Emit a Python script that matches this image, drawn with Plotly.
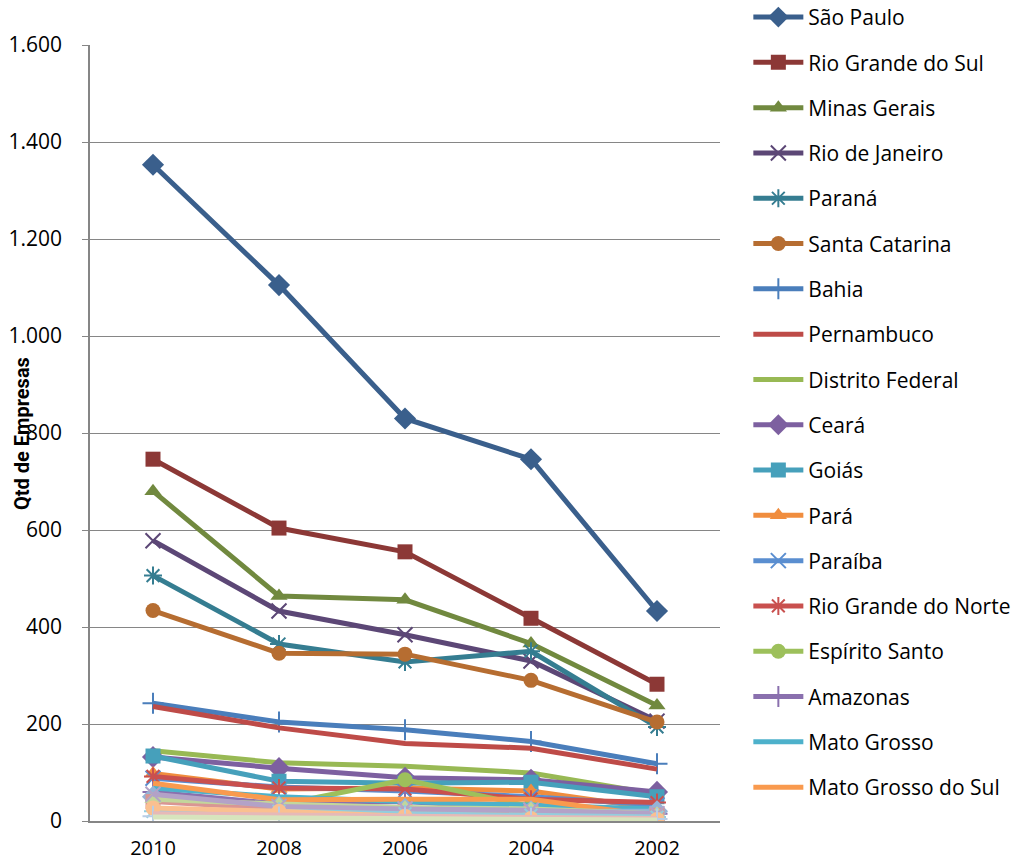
import plotly.graph_objects as go

years = ["2010", "2008", "2006", "2004", "2002"]
y_tick_vals = [0, 200, 400, 600, 800, 1000, 1200, 1400, 1600]
y_tick_text = ["0", "200", "400", "600", "800", "1.000", "1.200", "1.400", "1.600"]
y_title = "Qtd de Empresas"

states = [
    "São Paulo", "Rio Grande do Sul", "Minas Gerais", "Rio de Janeiro", "Paraná",
    "Santa Catarina", "Bahia", "Pernambuco", "Distrito Federal", "Ceará", "Goiás",
    "Pará", "Paraíba", "Rio Grande do Norte", "Espírito Santo", "Amazonas",
    "Mato Grosso", "Mato Grosso do Sul",
    "Maranhão", "Piauí", "Alagoas", "Sergipe", "Tocantins", "Rondônia",
    "Acre", "Amapá", "Roraima",
]

sao_paulo = [1353, 1105, 830, 746, 433]
rio_grande_do_sul = [746, 604, 555, 418, 282]
minas_gerais = [680, 464, 456, 366, 238]
rio_de_janeiro = [578, 433, 384, 330, 206]
parana = [506, 365, 328, 350, 194]
santa_catarina = [434, 346, 344, 290, 204]
bahia = [243, 204, 188, 164, 118]
pernambuco = [236, 192, 160, 150, 107]
distrito_federal = [145, 120, 113, 99, 55]
ceara = [132, 109, 89, 85, 60]
goias = [134, 82, 78, 80, 50]
para = [98, 66, 68, 62, 25]
paraiba = [88, 70, 62, 50, 33]
rio_grande_do_norte = [92, 68, 66, 45, 38]
espirito_santo = [43, 33, 85, 30, 20]
amazonas = [60, 35, 40, 25, 15]
mato_grosso = [68, 50, 40, 33, 25]
mato_grosso_do_sul = [78, 44, 45, 45, 10]
maranhao = [50, 30, 25, 20, 20]
piaui = [40, 25, 20, 18, 12]
alagoas = [45, 35, 28, 25, 15]
sergipe = [55, 30, 25, 22, 15]
tocantins = [20, 20, 15, 12, 8]
rondonia = [27, 20, 10, 5, 3]
acre = [10, 8, 6, 5, 4]
amapa = [15, 12, 10, 8, 5]
roraima = [8, 6, 4, 3, 2]

values = [
    sao_paulo, rio_grande_do_sul, minas_gerais, rio_de_janeiro, parana,
    santa_catarina, bahia, pernambuco, distrito_federal, ceara, goias, para,
    paraiba, rio_grande_do_norte, espirito_santo, amazonas, mato_grosso,
    mato_grosso_do_sul, maranhao, piaui, alagoas, sergipe, tocantins, rondonia,
    acre, amapa, roraima,
]

colors = [
    "#3A5F8C", "#8C3836", "#71893F", "#5C4776", "#357D91", "#B66D31",
    "#4A7EBB", "#BE4B48", "#98B954", "#7D60A0", "#46A0BB", "#F08D3E",
    "#5A8ED0", "#C9504E", "#9DC05B", "#8A70AE", "#4DB1CB", "#F99A4E",
    "#95B3D7", "#D99694", "#C3D69B", "#B3A2C7", "#93CDDD", "#FAC090",
    "#B9CDE5", "#E6B9B8", "#D7E4BD",
]

symbols = ["diamond", "square", "triangle-up", "x-thin-open", "asterisk-open",
           "circle", "cross-thin-open", None, None]

FONT = "Open Sans, Noto Sans, sans-serif"

fig = go.Figure()
for i, (name, vals) in enumerate(zip(states, values)):
    sym = symbols[i % 9]
    col = colors[i]
    kw = dict(
        x=years, y=vals, name=name,
        line=dict(color=col, width=5),
        legendgroup=name,
        showlegend=i < 18,
    )
    if sym is None:
        kw["mode"] = "lines"
    else:
        kw["mode"] = "lines+markers"
        if sym.endswith("-open"):
            kw["marker"] = dict(symbol=sym, size=15, color=col,
                                line=dict(color=col, width=2))
        else:
            sz = 17 if sym == "diamond" else 15
            kw["marker"] = dict(symbol=sym, size=sz, color=col,
                                line=dict(color=col, width=0))
    fig.add_trace(go.Scatter(**kw))

fig.update_layout(
    width=1021, height=864,
    margin=dict(l=90, r=301, t=45, b=43, autoexpand=False),
    plot_bgcolor="white", paper_bgcolor="white",
    font=dict(family=FONT, size=21, color="black"),
    legend=dict(
        x=1.045, y=1.062, xanchor="left", yanchor="top",
        traceorder="grouped", tracegroupgap=15,
        font=dict(family=FONT, size=21, color="black"),
        itemwidth=50, bgcolor="rgba(0,0,0,0)", maxheight=1,
    ),
    xaxis=dict(
        type="category", range=[-0.5, 4.5], automargin=False,
        showline=True, linecolor="#868686", linewidth=1.5,
        showgrid=False, ticks="", ticklabelstandoff=8,
        tickfont=dict(family=FONT, size=20, color="black"),
    ),
    yaxis=dict(
        range=[0, 1600], tickvals=y_tick_vals, ticktext=y_tick_text,
        automargin=False,
        showline=True, linecolor="#868686", linewidth=1.5,
        showgrid=True, gridcolor="#868686", gridwidth=1,
        ticks="outside", ticklen=6, tickcolor="#868686",
        ticklabelstandoff=16, zeroline=False,
        tickfont=dict(family=FONT, size=21, color="black"),
    ),
    annotations=[dict(
        text="<b>" + y_title + "</b>", textangle=-90,
        xref="paper", yref="paper", x=-0.108, y=0.5,
        xanchor="center", yanchor="middle", showarrow=False,
        font=dict(family="Roboto, sans-serif", size=20, color="black"),
    )],
)

fig.write_html("out.html")
